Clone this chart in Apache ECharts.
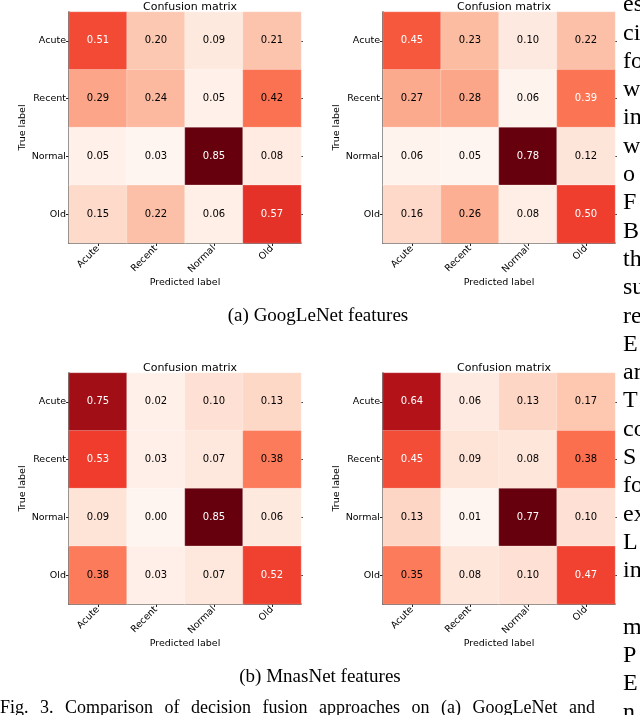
<!DOCTYPE html>
<html>
<head>
<meta charset="utf-8">
<script src="https://cdn.jsdelivr.net/npm/echarts@6/dist/echarts.min.js"></script>
<style>
html,body{margin:0;padding:0;background:#fff;}
#chart{width:640px;height:715px;}
</style>
</head>
<body>
<div id="chart"></div>
<script>
const categories = ['Acute', 'Recent', 'Normal', 'Old'];
const panelTitle = 'Confusion matrix';
const xAxisName = 'Predicted label';
const yAxisName = 'True label';

// rows = true label, columns = predicted label
const googlenetLeft = [
  [0.51, 0.20, 0.09, 0.21],
  [0.29, 0.24, 0.05, 0.42],
  [0.05, 0.03, 0.85, 0.08],
  [0.15, 0.22, 0.06, 0.57]
];
const googlenetRight = [
  [0.45, 0.23, 0.10, 0.22],
  [0.27, 0.28, 0.06, 0.39],
  [0.06, 0.05, 0.78, 0.12],
  [0.16, 0.26, 0.08, 0.50]
];
const mnasnetLeft = [
  [0.75, 0.02, 0.10, 0.13],
  [0.53, 0.03, 0.07, 0.38],
  [0.09, 0.00, 0.85, 0.06],
  [0.38, 0.03, 0.07, 0.52]
];
const mnasnetRight = [
  [0.64, 0.06, 0.13, 0.17],
  [0.45, 0.09, 0.08, 0.38],
  [0.13, 0.01, 0.77, 0.10],
  [0.35, 0.08, 0.10, 0.47]
];

const captionA = '(a) GoogLeNet features';
const captionB = '(b) MnasNet features';
const figCaption = 'Fig. 3.  Comparison of decision fusion approaches on (a) GoogLeNet and';
const sideText = ['es','ci','fo','w','in','w','o','F','B','th','su','re','E','ar','T','co','S','fo','ex','L','in','','m','P','E','n'];

const reds = ['#fff5f0','#fee0d2','#fcbba1','#fc9272','#fb6a4a','#ef3b2c','#cb181d','#a50f15','#67000d'];
const matrices = [googlenetLeft, googlenetRight, mnasnetLeft, mnasnetRight];
const grids = [
  {left: 69, top: 12, width: 232, height: 231},
  {left: 383, top: 12, width: 232, height: 231},
  {left: 69, top: 373, width: 232, height: 231},
  {left: 383, top: 373, width: 232, height: 231}
];
const FONT = 'DejaVu Sans';

const option = {
  backgroundColor: '#fff',
  animation: false,
  title: [],
  grid: grids.map(g => Object.assign({containLabel: false}, g)),
  xAxis: [],
  yAxis: [],
  visualMap: [],
  series: [],
  graphic: []
};

matrices.forEach((m, i) => {
  const g = grids[i];
  const flat = m.flat();
  const vmin = Math.min(...flat), vmax = Math.max(...flat);
  const thresh = vmax / 2;
  option.title.push({
    text: panelTitle,
    left: g.left + g.width / 2,
    top: g.top - 15,
    textAlign: 'center',
    textStyle: {fontFamily: FONT, fontSize: 11, fontWeight: 'normal', color: '#000'}
  });
  option.xAxis.push({
    type: 'category', gridIndex: i, data: categories, position: 'bottom',
    name: xAxisName, nameLocation: 'middle', nameGap: 33,
    nameTextStyle: {fontFamily: FONT, fontSize: 9.5, color: '#000'},
    axisLine: {show: true, lineStyle: {color: '#222', width: 1.5}},
    axisTick: {show: true, alignWithLabel: true, length: 3, lineStyle: {color: '#222'}},
    axisLabel: {rotate: 45, margin: 4, fontFamily: FONT, fontSize: 9.5, color: '#000'},
    splitLine: {show: false}
  });
  option.yAxis.push({
    type: 'category', gridIndex: i, data: categories, inverse: true, position: 'left',
    name: yAxisName, nameLocation: 'middle', nameGap: 40, nameRotate: 90,
    nameTextStyle: {fontFamily: FONT, fontSize: 9.5, color: '#000'},
    axisLine: {show: true, lineStyle: {color: '#222', width: 1.5}},
    axisTick: {show: true, alignWithLabel: true, length: 3, lineStyle: {color: '#222'}},
    axisLabel: {margin: 3, fontFamily: FONT, fontSize: 9.5, color: '#000'},
    splitLine: {show: false}
  });
  option.yAxis.push({
    type: 'category', gridIndex: i, data: categories, inverse: true, position: 'right',
    axisLine: {show: false},
    axisTick: {show: true, alignWithLabel: true, length: 2, lineStyle: {color: '#444'}},
    axisLabel: {show: false},
    splitLine: {show: false}
  });
  const data = [];
  m.forEach((row, r) => row.forEach((v, c) => {
    data.push({
      value: [c, r, v],
      label: {color: v >= thresh ? '#fff' : '#000'}
    });
  }));
  option.visualMap.push({
    type: 'continuous', show: false, seriesIndex: i, dimension: 2,
    min: vmin, max: vmax, inRange: {color: reds}
  });
  option.series.push({
    type: 'heatmap', xAxisIndex: i, yAxisIndex: i * 2, data: data,
    itemStyle: {borderColor: 'rgba(255,255,255,0.5)', borderWidth: 0.5},
    label: {show: true, fontFamily: FONT, fontSize: 10,
      formatter: p => p.value[2].toFixed(2)},
    emphasis: {disabled: true}
  });
});

const SERIF_FONT = '18px "Liberation Serif"';
const CAPTION_FONT = '19px "Liberation Serif"';
option.graphic.push({type: 'text', x: 318, y: 316,
  style: {text: captionA, font: CAPTION_FONT, fill: '#000', align: 'center', verticalAlign: 'middle'}});
option.graphic.push({type: 'text', x: 320, y: 677,
  style: {text: captionB, font: CAPTION_FONT, fill: '#000', align: 'center', verticalAlign: 'middle'}});

// justified figure caption line (0 .. 595 px)
(function () {
  const ctx = document.createElement('canvas').getContext('2d');
  ctx.font = SERIF_FONT;
  const words = figCaption.split(/\s+/);
  const widths = words.map(w => ctx.measureText(w).width);
  const total = widths.reduce((a, b) => a + b, 0);
  const lineW = 595;
  const gap = (lineW - total) / (words.length - 1);
  let x = 0;
  words.forEach((w, k) => {
    option.graphic.push({type: 'text', x: x, y: 699,
      style: {text: w, font: SERIF_FONT, fill: '#000'}});
    x += widths[k] + gap;
  });
})();

sideText.forEach((t, k) => {
  if (!t) return;
  option.graphic.push({type: 'text', x: 623, y: 5 + k * 28.3,
    style: {text: t, font: '24px "Liberation Serif"', fill: '#000', verticalAlign: 'middle', align: 'left'}});
});

const chart = echarts.init(document.getElementById('chart'), null, {renderer: 'canvas'});
chart.setOption(option);
</script>
</body>
</html>
